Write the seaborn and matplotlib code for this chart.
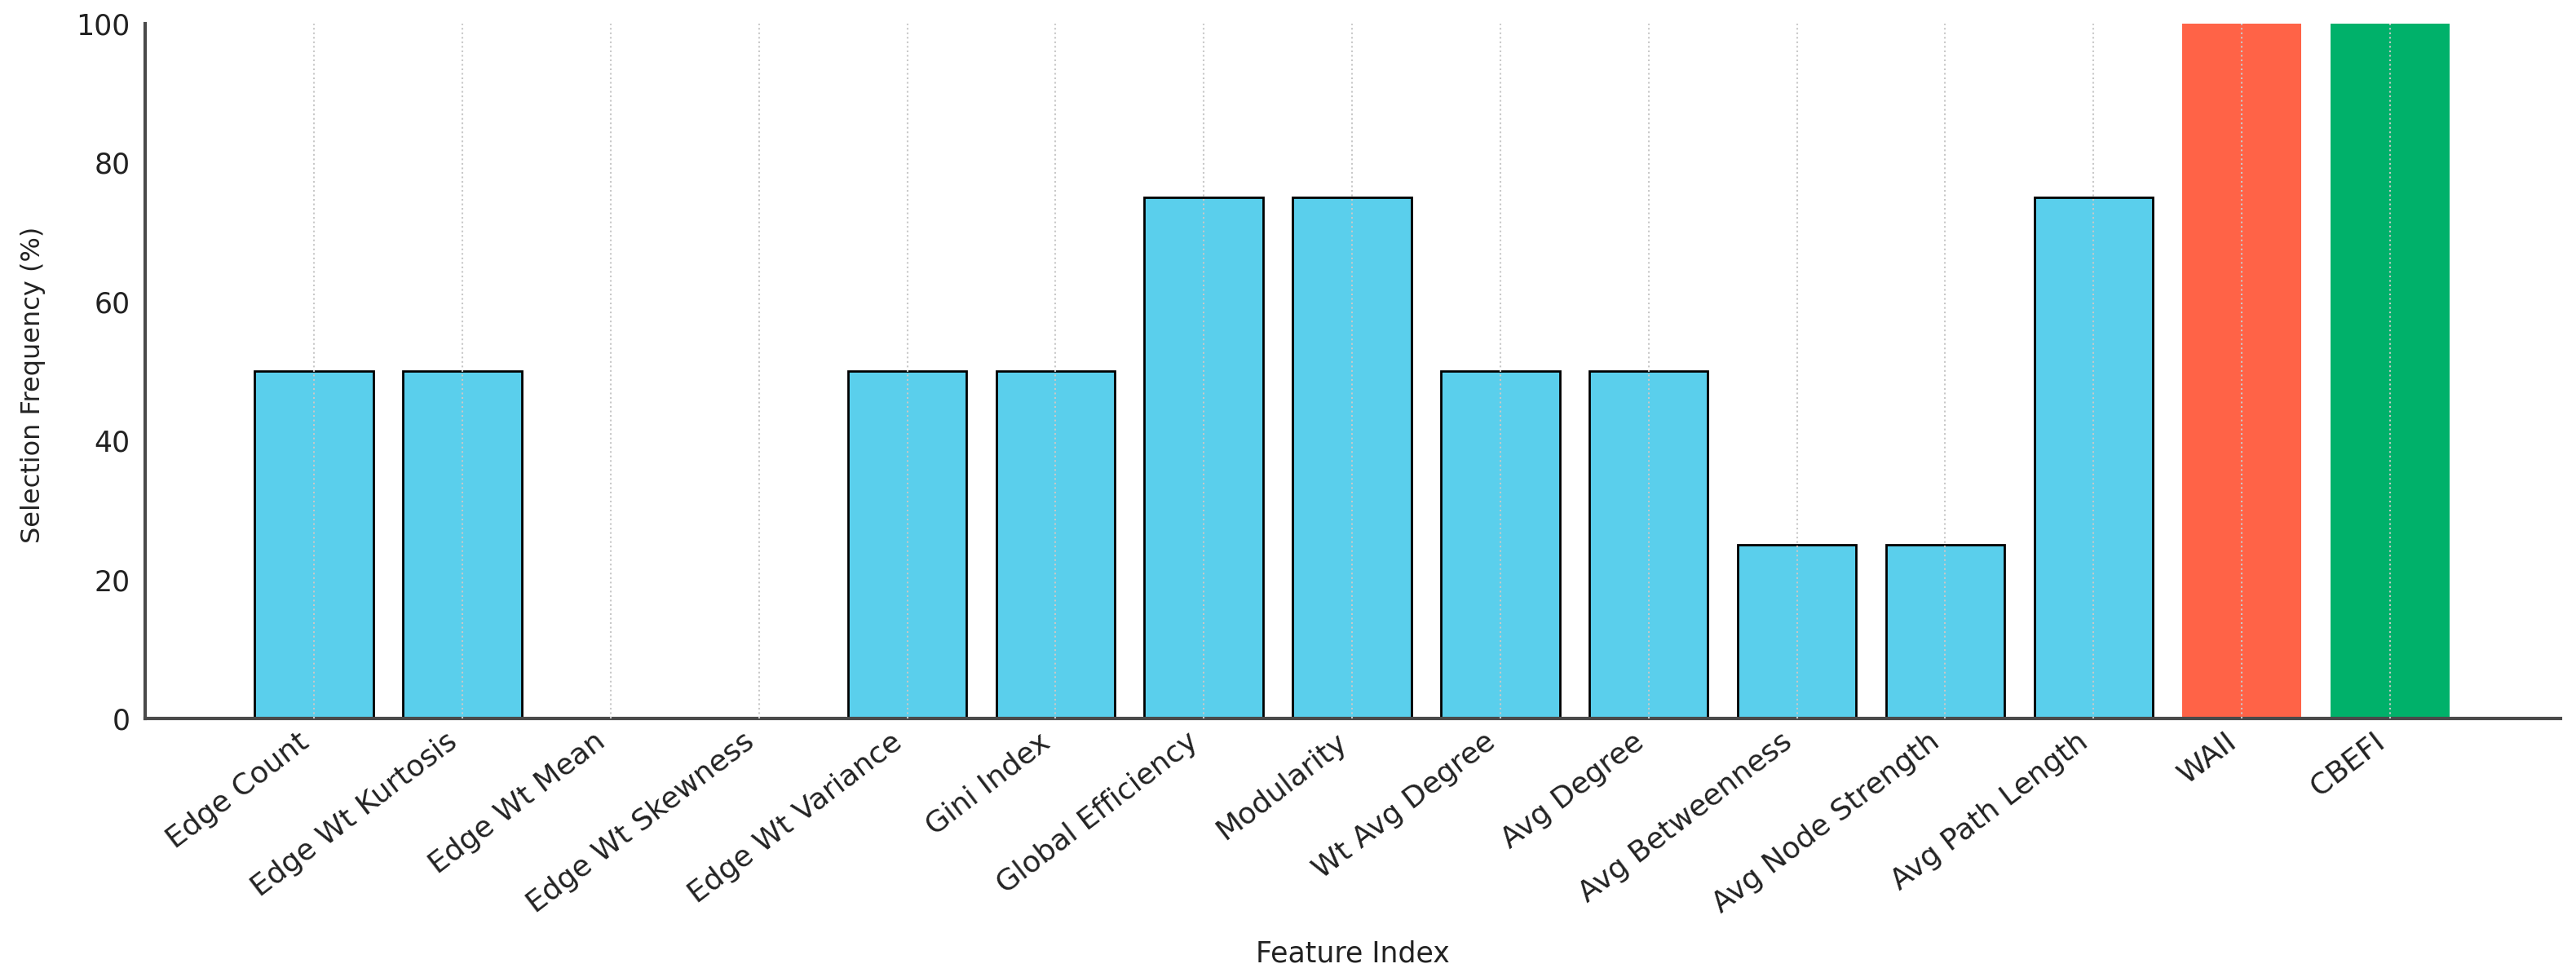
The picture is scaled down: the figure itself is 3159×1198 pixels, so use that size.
import matplotlib
matplotlib.use("Agg")
import matplotlib.pyplot as plt
import seaborn as sns
import pandas as pd

features = ["Edge Count", "Edge Wt Kurtosis", "Edge Wt Mean", "Edge Wt Skewness",
            "Edge Wt Variance", "Gini Index", "Global Efficiency", "Modularity",
            "Wt Avg Degree", "Avg Degree", "Avg Betweenness", "Avg Node Strength",
            "Avg Path Length", "WAII", "CBEFI"]
frequency = [50, 50, 0, 0, 50, 50, 75, 75, 50, 50, 25, 25, 75, 100, 100]
bar_colors = ["#5acfec"] * 13 + ["#ff6347", "#00b16a"]
edge_colors = ["black"] * 13 + ["none", "none"]

df = pd.DataFrame({"Feature": features, "Frequency": frequency})

sns.set_style("white")
plt.rcParams["font.family"] = ["DejaVu Sans"]

fig = plt.figure(figsize=(31.59, 11.98), dpi=100)
ax = fig.add_axes([0.0563, 0.2646, 0.9377, 0.7112])

sns.barplot(data=df, x="Feature", y="Frequency", hue="Feature",
            palette=bar_colors, legend=False, width=0.8, saturation=1, ax=ax)

for patch, ec in zip(ax.patches, edge_colors):
    patch.set_edgecolor(ec)
    patch.set_linewidth(2 if ec != "none" else 0)

ax.set_xlim(-1.14, 15.15)
ax.set_ylim(0, 100)
ax.set_yticks([0, 20, 40, 60, 80, 100])

ax.set_axisbelow(False)
ax.grid(axis="x", linestyle=":", color="#c8c8c8", linewidth=1.5)
ax.grid(axis="y", visible=False)

for side in ["top", "right"]:
    ax.spines[side].set_visible(False)
for side in ["left", "bottom"]:
    ax.spines[side].set_color("#4a4a4a")
    ax.spines[side].set_linewidth(3)

ax.tick_params(axis="both", direction="in", length=8, width=2, colors="#555555",
               labelcolor="#222222")
ax.tick_params(axis="y", labelsize=25, pad=13)
ax.tick_params(axis="x", labelsize=26, pad=8)
plt.setp(ax.get_xticklabels(), rotation=37.5, ha="right")

ax.set_xlabel("Feature Index", fontsize=25, color="#222222")
ax.xaxis.set_label_coords(0.5, -0.319)
ax.set_ylabel("Selection Frequency (%)", fontsize=23, color="#222222")
ax.yaxis.set_label_coords(-0.041, 0.48)

fig.savefig("out.png", dpi=100)
